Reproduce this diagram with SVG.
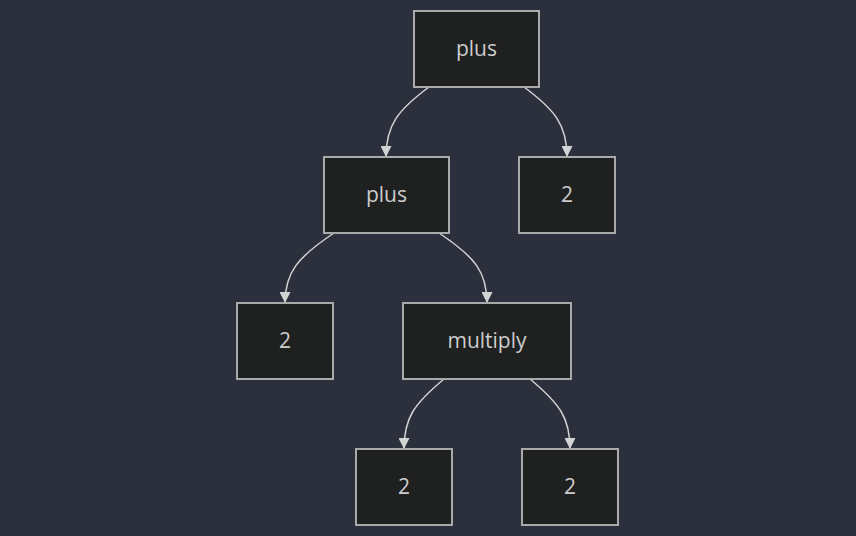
<svg xmlns="http://www.w3.org/2000/svg" width="856" height="536" viewBox="0 0 856 536">
<style>
.node rect{fill:#1f2020;stroke:#aaaaaa;stroke-width:2}
.node text{fill:#cccccc;font-family:"Open Sans","DejaVu Sans",sans-serif;font-size:21px;text-anchor:middle;dominant-baseline:central}
.edges path{fill:none;stroke:#d3d3d3;stroke-width:1.5;marker-end:url(#arr)}
</style>
<defs>
<marker id="arr" viewBox="0 0 10 10" refX="10" refY="5" markerWidth="11" markerHeight="11" markerUnits="userSpaceOnUse" orient="auto">
<path d="M0,0 L10,5 L0,10 z" fill="#d3d3d3"/>
</marker>
</defs>
<rect width="856" height="536" fill="#2b303c"/>
<g class="edges">
<path d="M429,87 C398,110 386,125 386,157"/>
<path d="M524,87 C555,110 567,125 567,157"/>
<path d="M334,233 C298,257 285,272 285,303"/>
<path d="M439,233 C475,257 487,272 487,303"/>
<path d="M444,379 C414,404 404,418 404,449"/>
<path d="M530,379 C560,404 570,418 570,449"/>
</g>
<g id="n1" class="node"><rect x="414" y="11" width="125" height="76"/><text x="476.5" y="48">plus</text></g>
<g id="n2" class="node"><rect x="324" y="157" width="125" height="76"/><text x="386.5" y="194">plus</text></g>
<g id="n3" class="node"><rect x="519" y="157" width="96" height="76"/><text x="567" y="194">2</text></g>
<g id="n4" class="node"><rect x="237" y="303" width="96" height="76"/><text x="285" y="340">2</text></g>
<g id="n5" class="node"><rect x="403" y="303" width="168" height="76"/><text x="487" y="340">multiply</text></g>
<g id="n6" class="node"><rect x="356" y="449" width="96" height="76"/><text x="404" y="486">2</text></g>
<g id="n7" class="node"><rect x="522" y="449" width="96" height="76"/><text x="570" y="486">2</text></g>
</svg>
